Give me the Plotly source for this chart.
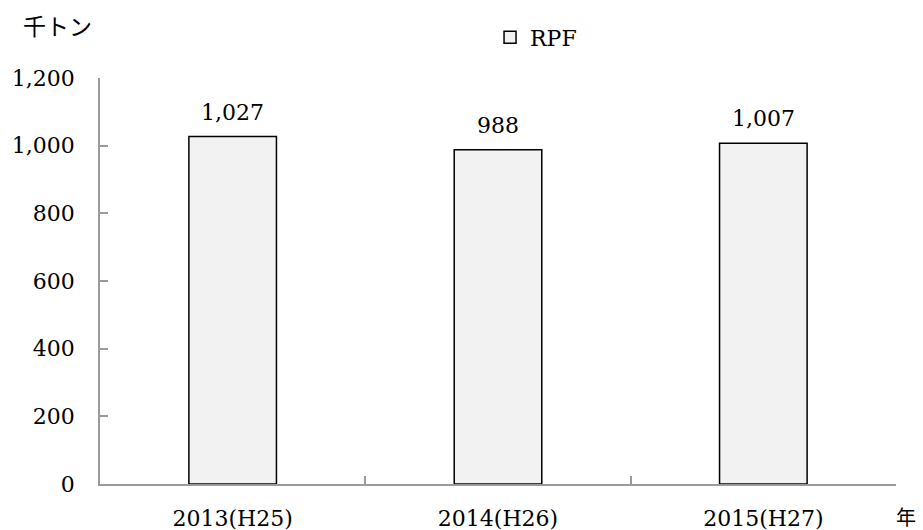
import plotly.graph_objects as go

categories = ["2013(H25)", "2014(H26)", "2015(H27)"]
values = [1027, 988, 1007]
series_name = "RPF"
y_ticks = [0, 200, 400, 600, 800, 1000, 1200]
y_tick_labels = [f"{v:,}" for v in y_ticks]

SERIF = "DejaVu Serif"
CJK = "Noto Sans CJK JP"
FS = 22

fig = go.Figure()
fig.add_trace(go.Bar(
    x=categories, y=values, name=series_name,
    marker=dict(color="#f2f2f2", line=dict(color="black", width=1.5)),
    width=0.33, showlegend=True,
))

for c, v in zip(categories, values):
    fig.add_annotation(x=c, y=v, text=f"{v:,}", showarrow=False,
                       yanchor="bottom", yshift=10,
                       font=dict(family=SERIF, size=FS, color="black"))

fig.add_annotation(xref="paper", yref="paper", x=-0.053, y=1.13, text="千トン",
                   xanchor="center", yanchor="middle",
                   showarrow=False, font=dict(family=CJK, size=23, color="black"))
fig.add_annotation(xref="paper", yref="paper", x=1.013, y=-0.081, text="年",
                   xanchor="center", yanchor="middle",
                   showarrow=False, font=dict(family=CJK, size=20, color="black"))

fig.update_layout(
    width=923, height=530,
    margin=dict(l=100, r=27, t=78, b=46, autoexpand=False),
    plot_bgcolor="white", paper_bgcolor="white",
    font=dict(family=SERIF, size=FS, color="black"),
    legend=dict(x=0.49, y=1.1, xanchor="left", yanchor="middle",
                orientation="h", font=dict(family=SERIF, size=FS),
                itemwidth=30, bgcolor="rgba(0,0,0,0)"),
    bargap=0.67,
)
fig.update_xaxes(
    type="category", showline=True, linecolor="#9a9a9a", linewidth=1.5,
    ticks="inside", ticklen=8, tickcolor="#9a9a9a", tickwidth=1.5,
    tickson="boundaries", showgrid=False, ticklabelstandoff=14,
    tickfont=dict(family=SERIF, size=FS), automargin=False,
)
fig.update_yaxes(
    range=[0, 1200], tickvals=y_ticks, ticktext=y_tick_labels,
    showline=True, linecolor="#9a9a9a", linewidth=1.5,
    ticks="inside", ticklen=8, tickcolor="#9a9a9a", tickwidth=1.5,
    showgrid=False, zeroline=False, ticklabelstandoff=19,
    tickfont=dict(family=SERIF, size=FS), automargin=False,
)

fig.write_html("out.html", config={"displayModeBar": False},
               post_script="document.body.style.margin='0';document.body.style.overflow='hidden';")
